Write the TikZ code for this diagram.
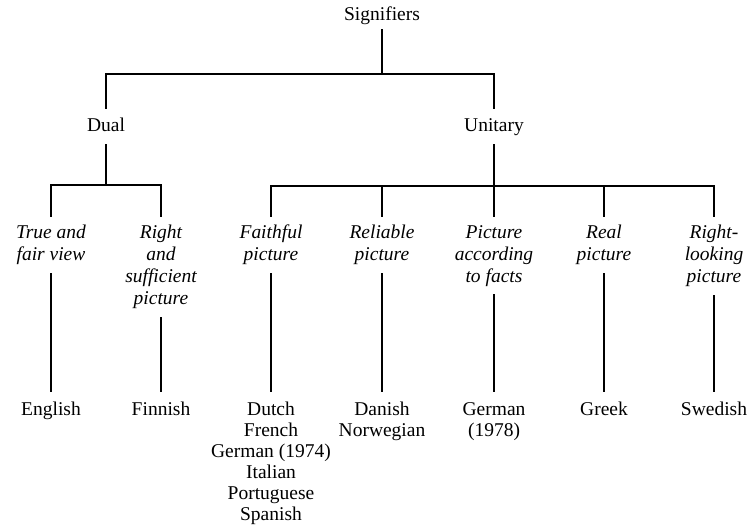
\documentclass[tikz,border=0pt]{standalone}
\usepackage{fontspec}
\setmainfont{Liberation Serif}

\begin{document}
\begin{tikzpicture}[
    x=1pt, y=-1pt,
    class/.style={anchor=base, inner ysep=9pt, text height=14pt, text depth=3pt, font=\fontsize{19.5}{22}\selectfont},
    term/.style={anchor=north, align=center, inner ysep=8pt, font=\fontsize{19.5}{22}\selectfont\itshape},
    lang/.style={anchor=north, align=center, inner ysep=10pt, font=\fontsize{19.5}{21}\selectfont},
    link/.style={draw=black, line width=1.1pt}
  ]
    \useasboundingbox (0,0) rectangle (748,529);

    \node[class, inner ysep=5pt] (sig) at (382,21) {Signifiers};
    \node[class] (dual) at (106,132) {Dual};
    \node[class] (unit) at (494,132) {Unitary};

    \node[term] (tfv) at (51,217) {True and\\fair view};
    \node[term] (ras) at (161,217) {Right\\and\\sufficient\\picture};
    \node[term] (fp) at (271,217) {Faithful\\picture};
    \node[term] (relp) at (382,217) {Reliable\\picture};
    \node[term] (paf) at (494,217) {Picture\\according\\to facts};
    \node[term] (realp) at (604,217) {Real\\picture};
    \node[term] (rlp) at (714,217) {Right-\\looking\\picture};

    \node[lang] (eng) at (51,392) {English};
    \node[lang] (fin) at (161,392) {Finnish};
    \node[lang] (dut) at (271,392) {Dutch\\French\\German (1974)\\Italian\\Portuguese\\Spanish};
    \node[lang] (dan) at (382,392) {Danish\\Norwegian};
    \node[lang] (ger) at (494,392) {German\\(1978)};
    \node[lang] (gre) at (604,392) {Greek};
    \node[lang] (swe) at (714,392) {Swedish};

    % Branch points
    \coordinate (topbar) at (382,74);
    \coordinate (dualbar) at (106,185);
    \coordinate (unitbar) at (494,186);

    % Tree lines
    \draw[link] (sig.south) -- (topbar);
    \draw[link] (topbar) -| (dual.north);
    \draw[link] (topbar) -| (unit.north);

    \draw[link] (dual.south) -- (dualbar);
    \draw[link] (unit.south) -- (unitbar);
    \foreach \t in {tfv, ras}
      \draw[link] (dualbar) -| (\t.north);
    \foreach \t in {fp, relp, paf, realp, rlp}
      \draw[link] (unitbar) -| (\t.north);

    \draw[link] (tfv) -- (eng);
    \draw[link] (ras) -- (fin);
    \draw[link] (fp) -- (dut);
    \draw[link] (relp) -- (dan);
    \draw[link] (paf) -- (ger);
    \draw[link] (realp) -- (gre);
    \draw[link] (rlp) -- (swe);

  \end{tikzpicture}
\end{document}
